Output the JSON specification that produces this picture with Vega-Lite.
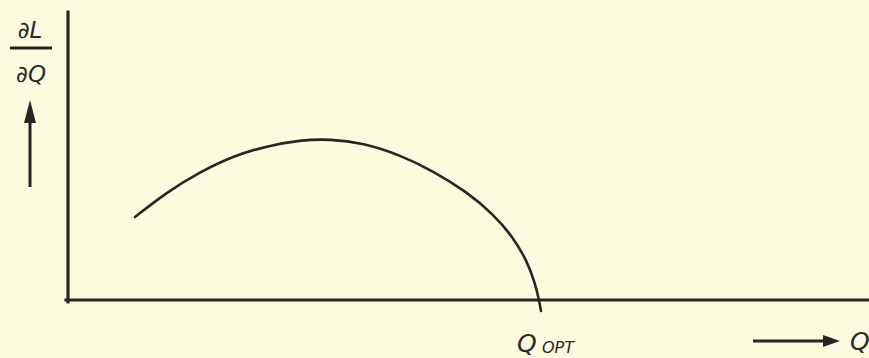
{
  "$schema": "https://vega.github.io/schema/vega-lite/v6.json",
  "width": 869,
  "height": 358,
  "autosize": {"type": "none"},
  "padding": 0,
  "background": "#FCFADF",
  "view": {"stroke": null},
  "config": {"axis": {"disable": true}},
  "datasets": {
    "curve": [
      {"q": 67, "dldq": 83},
      {"q": 99, "dldq": 108},
      {"q": 132, "dldq": 128},
      {"q": 165, "dldq": 144},
      {"q": 199, "dldq": 154},
      {"q": 232, "dldq": 160},
      {"q": 262, "dldq": 161},
      {"q": 295, "dldq": 157},
      {"q": 332, "dldq": 145},
      {"q": 365, "dldq": 129},
      {"q": 399, "dldq": 108},
      {"q": 425, "dldq": 86},
      {"q": 445, "dldq": 63},
      {"q": 459, "dldq": 39},
      {"q": 467, "dldq": 17},
      {"q": 471, "dldq": 0},
      {"q": 473, "dldq": -11}
    ],
    "axes": [
      {"part": "vertical axis", "x": 0, "y": -2, "x2": 0, "y2": 288},
      {"part": "horizontal axis", "x": -2, "y": 0, "x2": 801, "y2": 0}
    ],
    "shafts": [
      {"part": "up arrow", "x": -38, "y": 113, "x2": -38, "y2": 180},
      {"part": "right arrow", "x": 685, "y": -41, "x2": 758, "y2": -41},
      {"part": "fraction bar", "x": -58, "y": 252, "x2": -16, "y2": 252}
    ],
    "heads": [
      {"dir": "up", "x": -38, "y": 188.5},
      {"dir": "right", "x": 763.5, "y": -41}
    ],
    "fraction": [
      {"text": "∂L", "x": -38, "y": 262},
      {"text": "∂Q", "x": -37, "y": 218}
    ],
    "bigLabels": [
      {"text": "Q", "x": 449, "y": -52},
      {"text": "Q", "x": 782, "y": -50}
    ],
    "subLabels": [
      {"text": "OPT", "x": 474, "y": -53}
    ]
  },
  "encoding": {},
  "layer": [
    {
      "data": {"name": "axes"},
      "mark": {"type": "rule", "color": "#262626", "strokeWidth": 3.2, "strokeCap": "square"},
      "encoding": {
        "x": {"field": "x", "type": "quantitative", "scale": {"domain": [-68, 801], "nice": false, "zero": false}},
        "y": {"field": "y", "type": "quantitative", "scale": {"domain": [-58, 300], "nice": false, "zero": false}},
        "x2": {"field": "x2"},
        "y2": {"field": "y2"}
      }
    },
    {
      "data": {"name": "curve"},
      "mark": {"type": "line", "color": "#262626", "strokeWidth": 2.6, "interpolate": "basis", "strokeCap": "round"},
      "encoding": {
        "x": {"field": "q", "type": "quantitative"},
        "y": {"field": "dldq", "type": "quantitative"}
      }
    },
    {
      "data": {"name": "shafts"},
      "mark": {"type": "rule", "color": "#262626", "strokeWidth": 3},
      "encoding": {
        "x": {"field": "x", "type": "quantitative"},
        "y": {"field": "y", "type": "quantitative"},
        "x2": {"field": "x2"},
        "y2": {"field": "y2"}
      }
    },
    {
      "data": {"name": "heads"},
      "transform": [{"filter": "datum.dir === 'up'"}],
      "mark": {"type": "point", "filled": true, "opacity": 1, "color": "#262626", "size": 529, "shape": "M0,-1L0.52,1L-0.52,1Z"},
      "encoding": {
        "x": {"field": "x", "type": "quantitative"},
        "y": {"field": "y", "type": "quantitative"}
      }
    },
    {
      "data": {"name": "heads"},
      "transform": [{"filter": "datum.dir === 'right'"}],
      "mark": {"type": "point", "filled": true, "opacity": 1, "color": "#262626", "size": 289, "shape": "M1,0L-1,-0.7L-1,0.7Z"},
      "encoding": {
        "x": {"field": "x", "type": "quantitative"},
        "y": {"field": "y", "type": "quantitative"}
      }
    },
    {
      "data": {"name": "fraction"},
      "mark": {"type": "text", "font": "DejaVu Sans", "fontStyle": "italic", "fontSize": 23, "color": "#2a2a2a", "align": "center", "baseline": "alphabetic"},
      "encoding": {
        "x": {"field": "x", "type": "quantitative"},
        "y": {"field": "y", "type": "quantitative"},
        "text": {"field": "text"}
      }
    },
    {
      "data": {"name": "bigLabels"},
      "mark": {"type": "text", "font": "DejaVu Sans", "fontStyle": "italic", "fontSize": 25, "color": "#2a2a2a", "align": "left", "baseline": "alphabetic"},
      "encoding": {
        "x": {"field": "x", "type": "quantitative"},
        "y": {"field": "y", "type": "quantitative"},
        "text": {"field": "text"}
      }
    },
    {
      "data": {"name": "subLabels"},
      "mark": {"type": "text", "font": "DejaVu Sans", "fontStyle": "italic", "fontSize": 16, "color": "#2a2a2a", "align": "left", "baseline": "alphabetic"},
      "encoding": {
        "x": {"field": "x", "type": "quantitative"},
        "y": {"field": "y", "type": "quantitative"},
        "text": {"field": "text"}
      }
    }
  ]
}
